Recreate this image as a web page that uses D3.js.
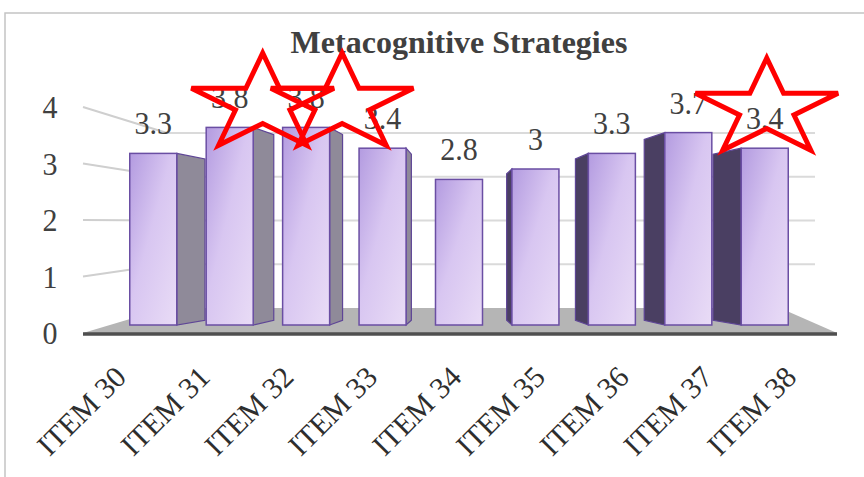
<!DOCTYPE html>
<html><head><meta charset="utf-8">
<script src="https://cdn.jsdelivr.net/npm/d3@7"></script>
<style>
html,body{margin:0;padding:0;background:#fff;}
svg{display:block;font-family:"Liberation Serif","Times New Roman",serif;}
</style>
</head><body>
<svg id="c" width="864" height="477"></svg>
<script>
const chartTitle = "Metacognitive Strategies";
const categories = ["ITEM 30","ITEM 31","ITEM 32","ITEM 33","ITEM 34","ITEM 35","ITEM 36","ITEM 37","ITEM 38"];
const values = [3.3, 3.8, 3.8, 3.4, 2.8, 3, 3.3, 3.7, 3.4];
const tickValues = [0, 1, 2, 3, 4];
const starredItems = ["ITEM 31", "ITEM 32", "ITEM 38"];

const svg = d3.select("#c");
const defs = svg.append("defs");

// scales
const x = d3.scaleBand().domain(categories).range([115, 803]).paddingInner(0.385).paddingOuter(0.193);
const xFront = d3.scaleBand().domain(categories).range([83, 837]);
const bw = x.bandwidth();
const yBar = d3.scaleLinear().domain([0, 4]).range([325, 117]);
const yFront = d3.scaleLinear().domain([0, 4]).range([333, 107]);
const yBack = d3.scaleLinear().domain([0, 4]).range([308, 133]);
const wallFrontX = 83, wallBackX = 167, backRightX = 815;
const vx = 459, vy = 247, kx = 0.9, ky = 0.94;
const proj = (px, py) => [vx + (px - vx) * kx, vy + (py - vy) * ky];

// frame
svg.append("path").attr("d", "M5,477V13H864").attr("fill", "none").attr("stroke", "#c4c4c4").attr("stroke-width", 1.5);

// title
svg.append("text").attr("x", 459).attr("y", 53).attr("text-anchor", "middle")
  .attr("font-size", 32).attr("font-weight", "bold").attr("fill", "#404040").text(chartTitle);

// gridlines: left wall + back wall
const grid = svg.append("g");
tickValues.filter(v => v > 0).forEach(v => {
  grid.append("line").attr("x1", wallFrontX).attr("y1", yFront(v)).attr("x2", wallBackX).attr("y2", yBack(v))
    .attr("stroke", "#cfcfcf").attr("stroke-width", 2);
  grid.append("line").attr("x1", wallBackX).attr("y1", yBack(v)).attr("x2", backRightX).attr("y2", yBack(v))
    .attr("stroke", "#dadada").attr("stroke-width", 2);
});

// floor
svg.append("polygon")
  .attr("points", [[wallFrontX, yFront(0)], [wallBackX, yBack(0)], [780, yBack(0)], [837, yFront(0)]].map(p => p.join(",")).join(" "))
  .attr("fill", "#b5b5b5");
svg.append("line").attr("x1", wallFrontX).attr("y1", yFront(0) + 1).attr("x2", 837).attr("y2", yFront(0) + 1)
  .attr("stroke", "#4f4f4f").attr("stroke-width", 3.5);

// y tick labels
svg.append("g").selectAll("text").data(tickValues).join("text")
  .attr("text-anchor", "middle")
  .attr("transform", d => `translate(50,${yFront(d) + 11}) scale(1,1.08)`)
  .attr("font-size", 30).attr("fill", "#404040").text(d => d);

// gradient for fronts
const g1 = defs.append("linearGradient").attr("id", "front").attr("x1", 0).attr("y1", 0).attr("x2", 1).attr("y2", 1);
g1.append("stop").attr("offset", 0).attr("stop-color", "#b39be0");
g1.append("stop").attr("offset", 0.45).attr("stop-color", "#d8c6f1");
g1.append("stop").attr("offset", 1).attr("stop-color", "#e9dcf6");

// bars
const data = categories.map((c, i) => ({ c, v: values[i] }));
const bars = svg.append("g");
data.forEach(d => {
  const x0 = x(d.c), x1 = x0 + bw, cx = x0 + bw / 2;
  const top = yBar(d.v), base = yBar(0);
  if (Math.abs(cx - vx) > 5) {
    const ex = cx < vx ? x1 : x0;
    const pts = [[ex, top], proj(ex, top), proj(ex, base), [ex, base]];
    bars.append("polygon").attr("points", pts.map(p => p.join(",")).join(" "))
      .attr("fill", cx < vx ? "#8f8a99" : "#4a3f62")
      .attr("stroke", "#5e4596").attr("stroke-width", 1.2);
  }
  bars.append("rect").attr("x", x0).attr("y", top).attr("width", bw).attr("height", base - top)
    .attr("fill", "url(#front)").attr("stroke", "#6a4ea3").attr("stroke-width", 1.5);
});

// value labels
svg.append("g").selectAll("text").data(data).join("text")
  .attr("text-anchor", "middle")
  .attr("transform", d => `translate(${x(d.c) + bw / 2},${yBar(d.v) - 19}) scale(1,1.08)`)
  .attr("font-size", 30).attr("fill", "#404040").text(d => d.v);

// x labels (placed along the front edge of the floor)
svg.append("g").selectAll("text").data(categories).join("text")
  .attr("text-anchor", "end").attr("font-size", 30).attr("fill", "#2e2e2e")
  .attr("transform", d => `translate(${xFront(d) + xFront.bandwidth() / 2 + 3},379) rotate(-45)`).text(d => d);

// star annotations
const starOffset = { "ITEM 31": [33, 104], "ITEM 32": [36, 104], "ITEM 38": [2, 109] };
function starPath(cx, cy, rx, ry) {
  const pts = [];
  for (let i = 0; i < 10; i++) {
    const a = (-90 + 36 * i) * Math.PI / 180;
    const r = i % 2 === 0 ? 1 : 0.382;
    pts.push([cx + rx * r * Math.cos(a), cy + ry * r * Math.sin(a)]);
  }
  return "M" + pts.map(p => p.join(",")).join("L") + "Z";
}
svg.append("g").selectAll("path").data(starredItems).join("path")
  .attr("d", d => starPath(x(d) + bw / 2 + starOffset[d][0], starOffset[d][1], 75, 51))
  .attr("fill", "none").attr("stroke", "#ff0000").attr("stroke-width", 5).attr("stroke-linejoin", "miter");
</script>
</body></html>
